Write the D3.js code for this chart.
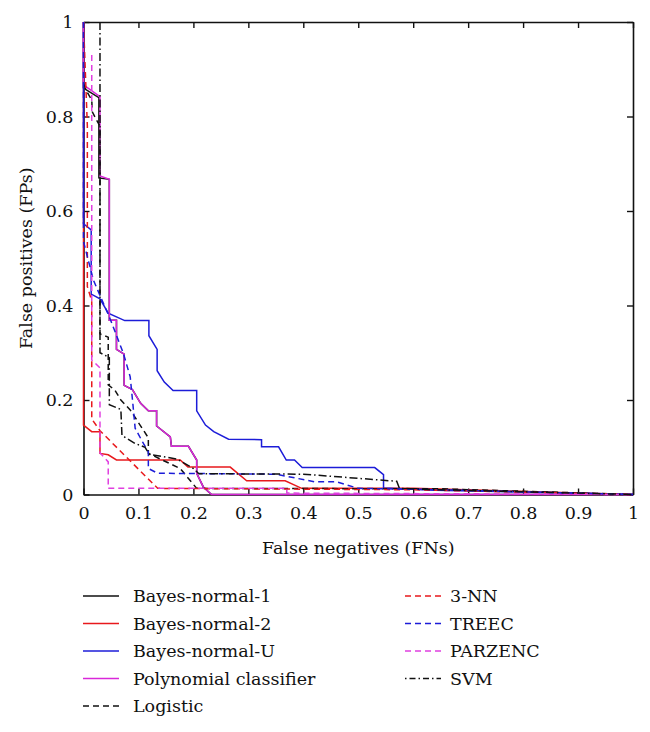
<!DOCTYPE html>
<html>
<head>
<meta charset="utf-8">
<script src="https://cdn.jsdelivr.net/npm/d3@7"></script>
<style>
  html, body { margin: 0; padding: 0; background: #fff; }
  svg { display: block; }
  svg text { font-family: "DejaVu Serif", "Liberation Serif", serif !important; fill: #111; }
</style>
</head>
<body>
<svg id="chart" width="650" height="732"></svg>
<script>
// ---- Data (FN rate, FP rate) ----
const xTicks = [0, 0.1, 0.2, 0.3, 0.4, 0.5, 0.6, 0.7, 0.8, 0.9, 1];
const yTicks = [0, 0.2, 0.4, 0.6, 0.8, 1];
const xTickLabels = ["0", "0.1", "0.2", "0.3", "0.4", "0.5", "0.6", "0.7", "0.8", "0.9", "1"];
const yTickLabels = ["0", "0.2", "0.4", "0.6", "0.8", "1"];

const bayesNormal1 = [[0,1],[0,0.86],[0.028,0.84],[0.028,0.67],[0.047,0.667],[0.047,0.369],[0.06,0.369],[0.06,0.307],[0.074,0.297],[0.074,0.231],[0.089,0.222],[0.104,0.193],[0.118,0.177],[0.133,0.177],[0.133,0.145],[0.158,0.122],[0.16,0.102],[0.191,0.102],[0.206,0.073],[0.206,0.045],[0.218,0.016],[0.233,0],[1,0]];
const bayesNormal2 = [[0,1],[0,0.147],[0.015,0.133],[0.03,0.133],[0.03,0.087],[0.045,0.084],[0.06,0.073],[0.176,0.073],[0.19,0.058],[0.267,0.058],[0.297,0.029],[0.367,0.029],[0.397,0.013],[0.6,0.013],[1,0]];
const bayesNormalU = [[0,1],[0,0.573],[0.014,0.56],[0.014,0.424],[0.03,0.414],[0.045,0.384],[0.075,0.368],[0.119,0.368],[0.119,0.336],[0.134,0.307],[0.134,0.262],[0.147,0.238],[0.163,0.22],[0.206,0.22],[0.206,0.177],[0.222,0.147],[0.237,0.133],[0.264,0.117],[0.324,0.116],[0.324,0.101],[0.355,0.101],[0.369,0.073],[0.384,0.073],[0.398,0.057],[0.53,0.057],[0.546,0.042],[0.546,0.014],[0.64,0.009],[1,0]];
const polynomial = [[0,1],[0,0.867],[0.03,0.842],[0.03,0.674],[0.047,0.667],[0.047,0.369],[0.06,0.369],[0.06,0.307],[0.074,0.297],[0.074,0.231],[0.089,0.222],[0.104,0.193],[0.118,0.177],[0.133,0.177],[0.133,0.145],[0.158,0.122],[0.16,0.102],[0.191,0.102],[0.206,0.073],[0.206,0.045],[0.218,0.016],[0.233,0],[1,0]];
const logistic = [[0,0.87],[0.006,0.853],[0.015,0.835],[0.016,0.81],[0.024,0.792],[0.03,0.78],[0.03,0.34],[0.045,0.333],[0.045,0.232],[0.057,0.221],[0.068,0.2],[0.085,0.179],[0.118,0.12],[0.118,0.087],[0.176,0.055],[0.206,0.013],[0.65,0.012],[1,0]];
const knn3 = [[0,1],[0.007,0.78],[0.007,0.44],[0.015,0.41],[0.015,0.16],[0.03,0.135],[0.135,0.013],[0.6,0.01],[1,0]];
const treec = [[0,1],[0,0.535],[0.018,0.454],[0.036,0.405],[0.047,0.376],[0.0725,0.299],[0.085,0.249],[0.09,0.19],[0.094,0.14],[0.109,0.108],[0.118,0.09],[0.118,0.055],[0.135,0.045],[0.35,0.043],[0.42,0.027],[0.46,0.027],[0.5,0.013],[0.65,0.01],[1,0]];
const parzenc = [[0.015,0.93],[0.015,0.285],[0.03,0.268],[0.03,0.088],[0.045,0.069],[0.045,0.013],[0.37,0.013],[0.37,0.003],[1,0]];
const svm = [[0.03,1],[0.03,0.3],[0.047,0.29],[0.047,0.19],[0.068,0.18],[0.07,0.125],[0.094,0.108],[0.112,0.1],[0.12,0.085],[0.17,0.075],[0.2,0.055],[0.21,0.044],[0.4,0.043],[0.57,0.028],[0.575,0.013],[0.65,0.01],[1,0]];

const seriesNames = ["Bayes-normal-1","Bayes-normal-2","Bayes-normal-U","Polynomial classifier","Logistic","3-NN","TREEC","PARZENC","SVM"];
const seriesData = [bayesNormal1, bayesNormal2, bayesNormalU, polynomial, logistic, knn3, treec, parzenc, svm];

// ---- Styles ----
const colors = ["#111111","#e8191c","#1c1cd8","#d928d9","#111111","#e8191c","#1c1cd8","#e040e0","#111111"];
const dashes = [null, null, null, null, "6,4", "6,4", "6,4", "6,4", "8,3,1.5,3"];
const FONT = '"DejaVu Serif", "Liberation Serif", serif';
const FS = 17.5;

const margin = {left: 83.5, right: 17, top: 22, bottom: 237.5};
const W = 650, H = 732;
const svg = d3.select("#chart");

const x = d3.scaleLinear().domain([0, 1]).range([margin.left, W - margin.right]);
const y = d3.scaleLinear().domain([0, 1]).range([H - margin.bottom, margin.top]);

const fmtX = (d, i) => xTickLabels[i];
const fmtY = (d, i) => yTickLabels[i];

const gB = svg.append("g").attr("transform", `translate(0,${y(0)})`)
  .call(d3.axisBottom(x).tickValues(xTicks).tickFormat(fmtX).tickSizeInner(-6).tickSizeOuter(0).tickPadding(12));
const gT = svg.append("g").attr("transform", `translate(0,${y(1)})`)
  .call(d3.axisTop(x).tickValues(xTicks).tickFormat("").tickSizeInner(-6).tickSizeOuter(0));
const gL = svg.append("g").attr("transform", `translate(${x(0)},0)`)
  .call(d3.axisLeft(y).tickValues(yTicks).tickFormat(fmtY).tickSizeInner(-6).tickSizeOuter(0).tickPadding(10));
const gR = svg.append("g").attr("transform", `translate(${x(1)},0)`)
  .call(d3.axisRight(y).tickValues(yTicks).tickFormat("").tickSizeInner(-6).tickSizeOuter(0));

[gB, gT, gL, gR].forEach(g => {
  g.attr("font-family", FONT).attr("font-size", FS);
  g.select(".domain").attr("stroke", "#111").attr("stroke-width", 1.6);
  g.selectAll(".tick line").attr("stroke", "#111").attr("stroke-width", 1.4);
  g.selectAll("text").attr("font-size", FS).attr("fill", "#111");
});
gL.selectAll("text").attr("dy", "0.34em");

const line = d3.line().x(d => x(d[0])).y(d => y(d[1]));
seriesData.forEach((s, i) => {
  svg.append("path")
    .datum(s)
    .attr("d", line)
    .attr("fill", "none")
    .attr("stroke", colors[i])
    .attr("stroke-width", 1.5)
    .attr("stroke-dasharray", dashes[i]);
});

svg.append("text")
  .attr("x", (x(0) + x(1)) / 2).attr("y", 554)
  .attr("text-anchor", "middle").attr("font-size", FS)
  .text("False negatives (FNs)");
svg.append("text")
  .attr("transform", `translate(32,${(y(0) + y(1)) / 2}) rotate(-90)`)
  .attr("text-anchor", "middle").attr("font-size", FS)
  .text("False positives (FPs)");

const legendCols = [
  {lineX: 83, textX: 133, items: [0,1,2,3,4]},
  {lineX: 405, textX: 450, items: [5,6,7,8]}
];
legendCols.forEach(col => {
  col.items.forEach((si, r) => {
    const ly = 596 + r * 27.5;
    svg.append("line")
      .attr("x1", col.lineX).attr("x2", col.lineX + 36)
      .attr("y1", ly).attr("y2", ly)
      .attr("stroke", colors[si]).attr("stroke-width", 1.5)
      .attr("stroke-dasharray", si === 8 ? "1.5,3,6,3" : dashes[si]);
    svg.append("text")
      .attr("x", col.textX).attr("y", ly + 6)
      .attr("font-size", FS)
      .text(seriesNames[si]);
  });
});
</script>
</body>
</html>
